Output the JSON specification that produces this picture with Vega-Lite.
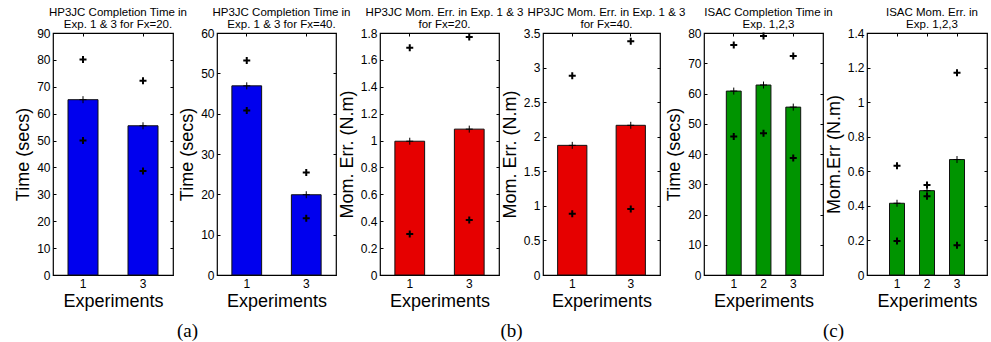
{
  "$schema": "https://vega.github.io/schema/vega-lite/v6.json",
  "background": "white",
  "padding": {"left": 14, "top": 6, "right": 5, "bottom": 0},
  "datasets": {
    "bars": [
      {"panel": "a1", "exp": "1", "mean": 65.2, "max": 80.1, "min": 50.0},
      {"panel": "a1", "exp": "3", "mean": 55.5, "max": 72.2, "min": 38.7},
      {"panel": "a2", "exp": "1", "mean": 46.9, "max": 53.2, "min": 40.8},
      {"panel": "a2", "exp": "3", "mean": 19.9, "max": 25.4, "min": 14.1},
      {"panel": "b1", "exp": "1", "mean": 0.995, "max": 1.69, "min": 0.305},
      {"panel": "b1", "exp": "3", "mean": 1.085, "max": 1.77, "min": 0.41},
      {"panel": "b2", "exp": "1", "mean": 1.875, "max": 2.88, "min": 0.885},
      {"panel": "b2", "exp": "3", "mean": 2.165, "max": 3.38, "min": 0.955},
      {"panel": "c1", "exp": "1", "mean": 60.8, "max": 76.0, "min": 45.8},
      {"panel": "c1", "exp": "2", "mean": 62.8, "max": 79.0, "min": 46.9},
      {"panel": "c1", "exp": "3", "mean": 55.5, "max": 72.4, "min": 38.7},
      {"panel": "c2", "exp": "1", "mean": 0.415, "max": 0.632, "min": 0.197},
      {"panel": "c2", "exp": "2", "mean": 0.488, "max": 0.52, "min": 0.455},
      {"panel": "c2", "exp": "3", "mean": 0.668, "max": 1.17, "min": 0.172}
    ]
  },
  "config": {
    "view": {"stroke": "#000", "strokeWidth": 1.2},
    "axis": {
      "grid": false, "domain": false, "ticks": true, "tickSize": -3, "tickColor": "#000", "tickWidth": 1,
      "labelFont": "Liberation Sans", "labelFontSize": 12, "labelColor": "#000", "labelPadding": 6,
      "titleFont": "Liberation Sans", "titleFontSize": 18, "titleFontWeight": "normal", "titleColor": "#000"
    },
    "axisX": {"labelAngle": 0, "titlePadding": 3},
    "axisY": {"titlePadding": 4},
    "title": {"font": "Liberation Sans", "fontSize": 11.5, "fontWeight": "normal", "color": "#000", "lineHeight": 11.5, "offset": -3, "dx": 5},
    "point": {"opacity": 1}
  },
  "bounds": "flush",
  "spacing": 44,
  "hconcat": [
    {
      "width": 120, "height": 242,
      "title": {"text": ["HP3JC Completion Time in", "Exp. 1 & 3 for Fx=20."]},
      "data": {"name": "bars"},
      "transform": [{"filter": "datum.panel === 'a1'"}],
      "layer": [
        {"mark": {"type": "bar", "color": "#0000ee", "stroke": "#111", "strokeWidth": 1},
         "encoding": {
           "x": {"field": "exp", "type": "ordinal", "scale": {"paddingInner": 0.5, "paddingOuter": 0.25}, "axis": {"title": "Experiments", "orient": "bottom"}},
           "y": {"field": "mean", "type": "quantitative", "scale": {"domain": [0, 90]}, "axis": {"title": "Time (secs)", "values": [0, 10, 20, 30, 40, 50, 60, 70, 80, 90]}}}},
        {"mark": {"type": "point", "shape": "M-1,0L1,0M0,-1L0,1", "filled": false, "stroke": "#000", "strokeWidth": 2, "size": 49},
         "encoding": {
           "x": {"field": "exp", "type": "ordinal", "scale": {"paddingInner": 0.5, "paddingOuter": 0.25}, "axis": {"title": null, "labels": false, "orient": "top"}},
           "y": {"field": "max", "type": "quantitative", "axis": {"title": null, "labels": false, "orient": "right", "values": [0, 10, 20, 30, 40, 50, 60, 70, 80, 90]}}}},
        {"mark": {"type": "point", "shape": "M-1,0L1,0M0,-1L0,1", "filled": false, "stroke": "#000", "strokeWidth": 2, "size": 49},
         "encoding": {
           "x": {"field": "exp", "type": "ordinal", "scale": {"paddingInner": 0.5, "paddingOuter": 0.25}, "axis": {"orient": "bottom", "title": "(a)", "labels": false, "ticks": false, "offset": 38, "titleFont": "Liberation Serif", "titleFontSize": 19, "titleX": 134, "titlePadding": 8}},
           "y": {"field": "min", "type": "quantitative", "axis": null}}},
        {"mark": {"type": "point", "shape": "M-1,0L1,0M0,-1L0,1", "filled": false, "stroke": "#000", "strokeWidth": 1, "size": 49},
         "encoding": {
           "x": {"field": "exp", "type": "ordinal", "scale": {"paddingInner": 0.5, "paddingOuter": 0.25}, "axis": null},
           "y": {"field": "mean", "type": "quantitative", "axis": null}}}
      ],
      "resolve": {"axis": {"x": "independent", "y": "independent"}}
    },
    {
      "width": 119, "height": 242,
      "title": {"text": ["HP3JC Completion Time in", "Exp. 1 & 3 for Fx=40."]},
      "data": {"name": "bars"},
      "transform": [{"filter": "datum.panel === 'a2'"}],
      "layer": [
        {"mark": {"type": "bar", "color": "#0000ee", "stroke": "#111", "strokeWidth": 1},
         "encoding": {
           "x": {"field": "exp", "type": "ordinal", "scale": {"paddingInner": 0.5, "paddingOuter": 0.25}, "axis": {"title": "Experiments", "orient": "bottom"}},
           "y": {"field": "mean", "type": "quantitative", "scale": {"domain": [0, 60]}, "axis": {"title": "Time (secs)", "values": [0, 10, 20, 30, 40, 50, 60]}}}},
        {"mark": {"type": "point", "shape": "M-1,0L1,0M0,-1L0,1", "filled": false, "stroke": "#000", "strokeWidth": 2, "size": 49},
         "encoding": {
           "x": {"field": "exp", "type": "ordinal", "scale": {"paddingInner": 0.5, "paddingOuter": 0.25}, "axis": {"title": null, "labels": false, "orient": "top"}},
           "y": {"field": "max", "type": "quantitative", "axis": {"title": null, "labels": false, "orient": "right", "values": [0, 10, 20, 30, 40, 50, 60]}}}},
        {"mark": {"type": "point", "shape": "M-1,0L1,0M0,-1L0,1", "filled": false, "stroke": "#000", "strokeWidth": 2, "size": 49},
         "encoding": {
           "x": {"field": "exp", "type": "ordinal", "scale": {"paddingInner": 0.5, "paddingOuter": 0.25}, "axis": null},
           "y": {"field": "min", "type": "quantitative", "axis": null}}},
        {"mark": {"type": "point", "shape": "M-1,0L1,0M0,-1L0,1", "filled": false, "stroke": "#000", "strokeWidth": 1, "size": 49},
         "encoding": {
           "x": {"field": "exp", "type": "ordinal", "scale": {"paddingInner": 0.5, "paddingOuter": 0.25}, "axis": null},
           "y": {"field": "mean", "type": "quantitative", "axis": null}}}
      ],
      "resolve": {"axis": {"x": "independent", "y": "independent"}}
    },
    {
      "width": 119, "height": 242,
      "title": {"text": ["HP3JC Mom. Err. in Exp. 1 & 3", "for Fx=20."]},
      "data": {"name": "bars"},
      "transform": [{"filter": "datum.panel === 'b1'"}],
      "layer": [
        {"mark": {"type": "bar", "color": "#e60000", "stroke": "#111", "strokeWidth": 1},
         "encoding": {
           "x": {"field": "exp", "type": "ordinal", "scale": {"paddingInner": 0.5, "paddingOuter": 0.25}, "axis": {"title": "Experiments", "orient": "bottom"}},
           "y": {"field": "mean", "type": "quantitative", "scale": {"domain": [0, 1.8]}, "axis": {"title": "Mom. Err. (N.m)", "format": "~g", "values": [0, 0.2, 0.4, 0.6, 0.8, 1, 1.2, 1.4, 1.6, 1.8]}}}},
        {"mark": {"type": "point", "shape": "M-1,0L1,0M0,-1L0,1", "filled": false, "stroke": "#000", "strokeWidth": 2, "size": 49},
         "encoding": {
           "x": {"field": "exp", "type": "ordinal", "scale": {"paddingInner": 0.5, "paddingOuter": 0.25}, "axis": {"title": null, "labels": false, "orient": "top"}},
           "y": {"field": "max", "type": "quantitative", "axis": {"title": null, "labels": false, "orient": "right", "values": [0, 0.2, 0.4, 0.6, 0.8, 1, 1.2, 1.4, 1.6, 1.8]}}}},
        {"mark": {"type": "point", "shape": "M-1,0L1,0M0,-1L0,1", "filled": false, "stroke": "#000", "strokeWidth": 2, "size": 49},
         "encoding": {
           "x": {"field": "exp", "type": "ordinal", "scale": {"paddingInner": 0.5, "paddingOuter": 0.25}, "axis": {"orient": "bottom", "title": "(b)", "labels": false, "ticks": false, "offset": 38, "titleFont": "Liberation Serif", "titleFontSize": 19, "titleX": 131, "titlePadding": 8}},
           "y": {"field": "min", "type": "quantitative", "axis": null}}},
        {"mark": {"type": "point", "shape": "M-1,0L1,0M0,-1L0,1", "filled": false, "stroke": "#000", "strokeWidth": 1, "size": 49},
         "encoding": {
           "x": {"field": "exp", "type": "ordinal", "scale": {"paddingInner": 0.5, "paddingOuter": 0.25}, "axis": null},
           "y": {"field": "mean", "type": "quantitative", "axis": null}}}
      ],
      "resolve": {"axis": {"x": "independent", "y": "independent"}}
    },
    {
      "width": 117, "height": 242,
      "title": {"text": ["HP3JC Mom. Err. in Exp. 1 & 3", "for Fx=40."]},
      "data": {"name": "bars"},
      "transform": [{"filter": "datum.panel === 'b2'"}],
      "layer": [
        {"mark": {"type": "bar", "color": "#e60000", "stroke": "#111", "strokeWidth": 1},
         "encoding": {
           "x": {"field": "exp", "type": "ordinal", "scale": {"paddingInner": 0.5, "paddingOuter": 0.25}, "axis": {"title": "Experiments", "orient": "bottom"}},
           "y": {"field": "mean", "type": "quantitative", "scale": {"domain": [0, 3.5]}, "axis": {"title": "Mom. Err. (N.m)", "format": "~g", "values": [0, 0.5, 1, 1.5, 2, 2.5, 3, 3.5]}}}},
        {"mark": {"type": "point", "shape": "M-1,0L1,0M0,-1L0,1", "filled": false, "stroke": "#000", "strokeWidth": 2, "size": 49},
         "encoding": {
           "x": {"field": "exp", "type": "ordinal", "scale": {"paddingInner": 0.5, "paddingOuter": 0.25}, "axis": {"title": null, "labels": false, "orient": "top"}},
           "y": {"field": "max", "type": "quantitative", "axis": {"title": null, "labels": false, "orient": "right", "values": [0, 0.5, 1, 1.5, 2, 2.5, 3, 3.5]}}}},
        {"mark": {"type": "point", "shape": "M-1,0L1,0M0,-1L0,1", "filled": false, "stroke": "#000", "strokeWidth": 2, "size": 49},
         "encoding": {
           "x": {"field": "exp", "type": "ordinal", "scale": {"paddingInner": 0.5, "paddingOuter": 0.25}, "axis": null},
           "y": {"field": "min", "type": "quantitative", "axis": null}}},
        {"mark": {"type": "point", "shape": "M-1,0L1,0M0,-1L0,1", "filled": false, "stroke": "#000", "strokeWidth": 1, "size": 49},
         "encoding": {
           "x": {"field": "exp", "type": "ordinal", "scale": {"paddingInner": 0.5, "paddingOuter": 0.25}, "axis": null},
           "y": {"field": "mean", "type": "quantitative", "axis": null}}}
      ],
      "resolve": {"axis": {"x": "independent", "y": "independent"}}
    },
    {
      "width": 119, "height": 242,
      "title": {"text": ["ISAC Completion Time in", "Exp. 1,2,3"]},
      "data": {"name": "bars"},
      "transform": [{"filter": "datum.panel === 'c1'"}],
      "layer": [
        {"mark": {"type": "bar", "color": "#009400", "stroke": "#111", "strokeWidth": 1},
         "encoding": {
           "x": {"field": "exp", "type": "ordinal", "scale": {"paddingInner": 0.5, "paddingOuter": 0.75}, "axis": {"title": "Experiments", "orient": "bottom"}},
           "y": {"field": "mean", "type": "quantitative", "scale": {"domain": [0, 80]}, "axis": {"title": "Time (secs)", "values": [0, 10, 20, 30, 40, 50, 60, 70, 80]}}}},
        {"mark": {"type": "point", "shape": "M-1,0L1,0M0,-1L0,1", "filled": false, "stroke": "#000", "strokeWidth": 2, "size": 49},
         "encoding": {
           "x": {"field": "exp", "type": "ordinal", "scale": {"paddingInner": 0.5, "paddingOuter": 0.75}, "axis": {"title": null, "labels": false, "orient": "top"}},
           "y": {"field": "max", "type": "quantitative", "axis": {"title": null, "labels": false, "orient": "right", "values": [0, 10, 20, 30, 40, 50, 60, 70, 80]}}}},
        {"mark": {"type": "point", "shape": "M-1,0L1,0M0,-1L0,1", "filled": false, "stroke": "#000", "strokeWidth": 2, "size": 49},
         "encoding": {
           "x": {"field": "exp", "type": "ordinal", "scale": {"paddingInner": 0.5, "paddingOuter": 0.75}, "axis": {"orient": "bottom", "title": "(c)", "labels": false, "ticks": false, "offset": 38, "titleFont": "Liberation Serif", "titleFontSize": 19, "titleX": 129, "titlePadding": 8}},
           "y": {"field": "min", "type": "quantitative", "axis": null}}},
        {"mark": {"type": "point", "shape": "M-1,0L1,0M0,-1L0,1", "filled": false, "stroke": "#000", "strokeWidth": 1, "size": 49},
         "encoding": {
           "x": {"field": "exp", "type": "ordinal", "scale": {"paddingInner": 0.5, "paddingOuter": 0.75}, "axis": null},
           "y": {"field": "mean", "type": "quantitative", "axis": null}}}
      ],
      "resolve": {"axis": {"x": "independent", "y": "independent"}}
    },
    {
      "width": 120, "height": 242,
      "title": {"text": ["ISAC Mom. Err. in", "Exp. 1,2,3"]},
      "data": {"name": "bars"},
      "transform": [{"filter": "datum.panel === 'c2'"}],
      "layer": [
        {"mark": {"type": "bar", "color": "#009400", "stroke": "#111", "strokeWidth": 1},
         "encoding": {
           "x": {"field": "exp", "type": "ordinal", "scale": {"paddingInner": 0.5, "paddingOuter": 0.75}, "axis": {"title": "Experiments", "orient": "bottom"}},
           "y": {"field": "mean", "type": "quantitative", "scale": {"domain": [0, 1.4]}, "axis": {"title": "Mom.Err (N.m)", "format": "~g", "values": [0, 0.2, 0.4, 0.6, 0.8, 1, 1.2, 1.4]}}}},
        {"mark": {"type": "point", "shape": "M-1,0L1,0M0,-1L0,1", "filled": false, "stroke": "#000", "strokeWidth": 2, "size": 49},
         "encoding": {
           "x": {"field": "exp", "type": "ordinal", "scale": {"paddingInner": 0.5, "paddingOuter": 0.75}, "axis": {"title": null, "labels": false, "orient": "top"}},
           "y": {"field": "max", "type": "quantitative", "axis": {"title": null, "labels": false, "orient": "right", "values": [0, 0.2, 0.4, 0.6, 0.8, 1, 1.2, 1.4]}}}},
        {"mark": {"type": "point", "shape": "M-1,0L1,0M0,-1L0,1", "filled": false, "stroke": "#000", "strokeWidth": 2, "size": 49},
         "encoding": {
           "x": {"field": "exp", "type": "ordinal", "scale": {"paddingInner": 0.5, "paddingOuter": 0.75}, "axis": null},
           "y": {"field": "min", "type": "quantitative", "axis": null}}},
        {"mark": {"type": "point", "shape": "M-1,0L1,0M0,-1L0,1", "filled": false, "stroke": "#000", "strokeWidth": 1, "size": 49},
         "encoding": {
           "x": {"field": "exp", "type": "ordinal", "scale": {"paddingInner": 0.5, "paddingOuter": 0.75}, "axis": null},
           "y": {"field": "mean", "type": "quantitative", "axis": null}}}
      ],
      "resolve": {"axis": {"x": "independent", "y": "independent"}}
    }
  ]
}
